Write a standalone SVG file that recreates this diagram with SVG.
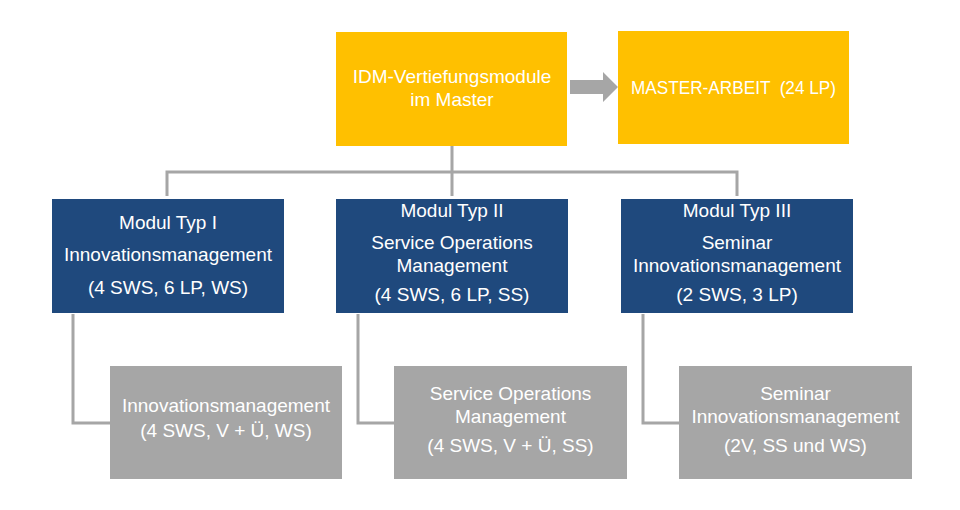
<svg xmlns="http://www.w3.org/2000/svg" width="960" height="510" viewBox="0 0 960 510">
<style>
.t{font-family:"Liberation Sans",Arial,sans-serif;font-size:19px;fill:#ffffff;text-anchor:middle}
.y{fill:#FFC000}
.b{fill:#1F497D}
.g{fill:#A6A6A6}
.c{fill:none;stroke:#A6A6A6;stroke-width:3}
</style>
<rect width="960" height="510" fill="#ffffff"/>
<g id="connectors">
<path class="c" d="M452 146 V196 M167 196 V172 H737 V196"/>
<path class="c" d="M73 314 V423 H110"/>
<path class="c" d="M358 314 V423 H394"/>
<path class="c" d="M643 314 V423 H679"/>
<polygon class="g" points="570,80 603,80 603,72 618,87 603,102 603,94 570,94"/>
</g>
<g id="idm">
<rect class="y" x="336" y="32" width="231" height="114"/>
<text class="t" x="452" y="83">IDM-Vertiefungsmodule</text>
<text class="t" x="452" y="106">im Master</text>
</g>
<g id="master">
<rect class="y" x="618" y="31" width="231" height="113"/>
<text class="t" x="733.5" y="94" textLength="205" lengthAdjust="spacingAndGlyphs" xml:space="preserve">MASTER-ARBEIT  (24 LP)</text>
</g>
<g id="typ1">
<rect class="b" x="52" y="199" width="232" height="114"/>
<text class="t" x="168" y="229">Modul Typ I</text>
<text class="t" x="168" y="261">Innovationsmanagement</text>
<text class="t" x="168" y="294">(4 SWS, 6 LP, WS)</text>
</g>
<g id="typ2">
<rect class="b" x="336" y="199" width="232" height="114"/>
<text class="t" x="452" y="217">Modul Typ II</text>
<text class="t" x="452" y="249">Service Operations</text>
<text class="t" x="452" y="272">Management</text>
<text class="t" x="452" y="301">(4 SWS, 6 LP, SS)</text>
</g>
<g id="typ3">
<rect class="b" x="621" y="199" width="232" height="114"/>
<text class="t" x="737" y="217">Modul Typ III</text>
<text class="t" x="737" y="249">Seminar</text>
<text class="t" x="737" y="272">Innovationsmanagement</text>
<text class="t" x="737" y="301">(2 SWS, 3 LP)</text>
</g>
<g id="lv1">
<rect class="g" x="110" y="366" width="232" height="113"/>
<text class="t" x="226" y="412">Innovationsmanagement</text>
<text class="t" x="226" y="437">(4 SWS, V + Ü, WS)</text>
</g>
<g id="lv2">
<rect class="g" x="394" y="366" width="233" height="113"/>
<text class="t" x="510.5" y="400">Service Operations</text>
<text class="t" x="510.5" y="423">Management</text>
<text class="t" x="510.5" y="452">(4 SWS, V + Ü, SS)</text>
</g>
<g id="lv3">
<rect class="g" x="679" y="366" width="233" height="113"/>
<text class="t" x="795.5" y="400">Seminar</text>
<text class="t" x="795.5" y="423">Innovationsmanagement</text>
<text class="t" x="795.5" y="452">(2V, SS und WS)</text>
</g>
</svg>
